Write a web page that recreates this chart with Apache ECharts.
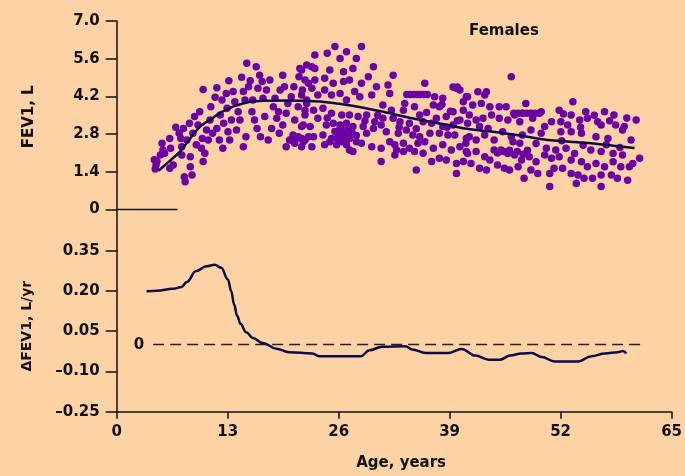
<!DOCTYPE html>
<html>
<head>
<meta charset="utf-8">
<script src="https://cdn.jsdelivr.net/npm/echarts@6/dist/echarts.min.js"></script>
<style>
html,body{margin:0;padding:0;background:#FDD3A5;}
#chart{width:685px;height:476px;}
</style>
</head>
<body>
<div id="chart"></div>
<script>
// ---- data ----
const titleText = 'Females';
const ageTicks = [0, 13, 26, 39, 52, 65];
const fevTicks = [0, 1.4, 2.8, 4.2, 5.6, 7.0];
const deltaTicks = [-0.25, -0.10, 0.05, 0.20, 0.35];

// individual FEV1 measurements [age, FEV1 (L)]
const fevPoints = [
[4.4,1.85],[4.6,1.65],[4.5,1.5],[4.7,1.78],[5.1,2.02],[5.3,2.46],[5.4,2.21],[5.6,2.09],[6.2,2.64],[6.3,2.27],
[6.2,1.53],[6.6,1.65],[6.9,3.05],[7.3,2.83],[7.5,2.64],[7.6,2.33],[7.6,2.02],[7.8,3.01],[7.9,1.22],[8.2,2.58],
[8.5,3.2],[8.6,1.96],[8.6,1.59],[8.8,1.28],[8.0,1.03],[8.9,2.83],[9.1,3.45],[9.3,2.4],[9.5,3.14],[9.7,3.63],
[9.9,2.27],[10.0,2.64],[10.1,1.78],[10.1,4.46],[10.3,2.09],[10.5,2.95],[10.7,2.58],[10.9,3.32],[11.0,3.82],[11.2,2.83],
[11.5,4.17],[11.7,3.01],[11.7,4.52],[12.0,2.58],[12.1,3.51],[12.3,4.07],[12.4,2.27],[12.5,3.2],[12.8,4.31],[12.9,3.76],
[13.0,2.89],[13.1,4.78],[13.2,2.58],[13.4,3.32],[13.6,4.38],[13.8,4.0],[14.0,2.95],[14.2,3.63],[14.4,3.32],[14.6,4.91],
[14.8,4.38],[14.8,2.33],[15.0,4.07],[15.1,2.7],[15.2,5.43],[15.4,4.56],[15.6,4.78],[15.8,3.63],[15.9,4.07],[16.1,3.32],
[16.3,5.3],[16.4,3.01],[16.5,4.5],[16.7,4.99],[16.8,2.7],[17.0,4.75],[17.1,4.13],[17.3,3.45],[17.5,4.44],[17.7,2.58],
[17.9,4.81],[18.1,3.01],[18.3,3.82],[18.5,4.13],[18.7,3.39],[18.9,3.63],[19.0,2.83],[19.1,4.44],[19.4,4.99],[19.4,3.14],
[19.6,4.56],[19.8,2.33],[19.8,3.57],[20.0,3.94],[20.2,2.58],[20.4,4.19],[20.6,2.77],[20.7,4.56],[20.8,3.32],[21.0,2.64],
[21.2,3.82],[21.3,4.93],[21.4,5.24],[21.6,3.08],[21.7,4.44],[21.8,2.58],[22.0,3.51],[22.2,5.37],[22.2,3.94],[22.4,4.69],
[22.4,2.7],[20.4,2.58],[20.8,2.46],[21.2,2.7],[22.0,2.58],[21.6,2.33],
[23.15,5.74],[24.6,5.8],[25.5,6.05],[26.85,5.86],[26.1,5.61],[28.6,6.05],[28.0,5.61],[22.8,5.3],[23.15,5.24],[21.6,5.18],
[24.9,5.18],[26.5,5.12],[27.6,5.24],[30.0,5.3],[29.4,4.93],[32.3,4.99],[22.0,4.81],[23.15,4.81],[24.3,4.87],[25.3,4.69],
[26.5,4.75],[27.2,4.81],[28.6,4.69],[30.35,4.56],[31.7,4.62],[31.9,4.31],[29.8,4.25],[28.4,4.19],[27.8,4.38],[26.85,4.07],
[26.1,4.31],[25.1,4.25],[24.3,4.44],[23.5,4.25],[22.8,4.5],[21.6,4.25],[22.2,4.07],[36.0,4.69],[37.15,4.19],[38.1,4.13],
[39.7,4.5],[40.1,4.44],[40.85,4.19],[40.5,4.0],[33.65,3.94],[31.1,3.88],[32.1,3.69],[33.5,3.69],[34.8,3.82],[37.0,3.88],
[37.7,3.82],[38.5,3.45],[39.3,3.63],[40.5,3.69],[41.0,3.2],[22.0,3.69],[23.0,3.69],[24.1,3.76],[25.1,3.57],[26.3,3.51],
[27.2,3.51],[28.2,3.45],[29.2,3.51],[30.15,3.26],[31.1,3.39],[32.3,3.39],[33.1,3.26],[34.2,3.2],[35.4,3.51],[35.8,3.26],
[36.8,3.2],[37.35,3.39],[38.1,3.08],[39.3,3.14],[40.1,3.32],[21.8,3.14],[22.6,3.08],[23.5,3.39],[24.5,3.14],[25.3,3.2],
[26.1,3.14],[26.85,3.2],[27.6,3.08],[28.8,3.08],[30.0,3.01],[30.9,3.14],[31.5,2.89],[32.9,2.83],[33.85,2.95],[34.6,2.77],
[35.4,2.7],[36.6,2.83],[37.7,2.83],[38.7,2.77],[39.5,2.77],[40.85,2.64],[21.6,2.64],[23.0,2.7],[24.1,2.77],[25.1,2.64],
[25.9,2.77],[26.5,2.77],[27.2,2.64],[28.0,2.52],[29.2,2.83],[29.8,2.33],[30.9,2.27],[31.9,2.52],[32.5,2.4],[33.5,2.46],
[34.2,2.27],[35.2,2.46],[36.0,2.52],[37.0,2.27],[38.1,2.4],[39.1,2.21],[40.1,2.33],[40.85,2.15],[21.8,2.52],[22.8,2.33],
[24.3,2.4],[25.7,2.4],[26.85,2.4],[27.6,2.15],[28.6,2.46],[30.9,1.78],[32.7,2.21],[33.5,2.15],[34.8,2.15],[35.8,2.09],
[36.8,1.78],[37.7,1.9],[38.5,1.84],[39.7,1.71],[40.5,1.78],[35.0,1.47],[39.7,1.34],[32.5,2.02],[27.2,2.21],[26.3,2.52],
[24.9,2.52],
[33.9,4.27],[34.3,4.27],[34.7,4.27],[35.1,4.27],[35.5,4.27],[35.9,4.27],[36.3,4.27],[39.3,4.55],[39.8,4.55],
[25.5,2.9],[26.0,2.95],[26.5,2.85],[27.0,2.95],[27.5,2.85],[26.2,3.05],[27.2,2.7],[25.8,2.65],[28.0,2.75],[26.7,2.6],
[46.1,4.93],[42.2,4.37],[43.2,4.37],[43.0,4.25],[41.0,4.19],[41.6,3.88],[42.6,3.94],[43.6,3.82],[44.7,3.82],[45.5,3.82],
[47.8,3.94],[49.6,3.63],[51.7,3.69],[53.3,4.0],[53.1,3.51],[54.8,3.63],[57.0,3.63],[58.1,3.51],[60.7,3.32],[58.3,3.14],
[59.1,2.95],[56.6,3.14],[56.2,3.26],[55.0,3.39],[54.1,3.32],[52.7,3.14],[51.9,3.26],[50.8,3.26],[50.0,3.08],[48.6,3.39],
[47.4,3.57],[46.5,3.51],[47.1,3.26],[45.7,3.32],[44.7,3.39],[43.8,3.51],[42.8,3.39],[42.0,3.32],[41.2,3.51],[42.4,3.08],
[43.4,3.01],[45.1,2.89],[46.1,2.7],[47.4,2.77],[48.4,2.95],[49.6,2.83],[51.9,2.89],[53.1,2.89],[54.3,2.83],[56.0,2.7],
[57.4,2.64],[59.3,3.08],[60.1,2.58],[41.2,2.7],[42.0,2.58],[43.0,2.77],[44.1,2.58],[46.3,2.52],[47.1,2.46],[50.2,2.27],
[51.3,2.21],[52.5,2.27],[53.5,2.08],[54.5,2.39],[55.4,2.21],[56.6,2.15],[58.0,2.08],[59.1,2.02],[61.1,1.9],[60.3,1.71],
[41.0,2.08],[42.0,2.15],[43.0,1.96],[44.1,2.21],[44.9,2.21],[45.7,2.08],[46.5,2.02],[47.3,1.84],[48.2,1.96],[49.0,1.77],
[50.0,2.02],[50.8,1.9],[51.7,1.96],[53.1,1.84],[54.3,1.77],[55.0,1.59],[56.0,1.71],[57.0,1.59],[58.0,1.77],[58.9,1.59],
[41.4,1.71],[42.4,1.53],[43.6,1.84],[44.5,1.65],[45.3,1.53],[45.9,1.47],[46.9,1.59],[48.4,1.47],[49.2,1.34],[50.6,1.34],
[51.1,1.53],[52.1,1.53],[53.1,1.34],[53.9,1.28],[54.6,1.16],[55.6,1.16],[56.6,1.28],[57.8,1.28],[58.5,1.16],[59.7,1.09],
[47.6,1.16],[50.6,0.85],[53.7,0.97],[56.6,0.85],[43.2,1.47],[40.8,2.46],[59.9,1.59],
[46.4,3.57],[46.9,3.57],[47.4,3.57],[47.9,3.57],[48.4,3.57],[48.9,3.57],[49.4,3.57],
[44.5,2.1],[45.2,2.15],[45.9,2.2],[46.8,2.15],[47.5,2.05],
[38.0,3.9],[39.0,3.65],[39.8,3.3],[38.6,3.05],[36.2,3.6],[35.0,3.0],[33.0,3.05],[30.5,3.5],[29.0,3.3],[24.6,3.4],
[52.2,3.55],[54.2,3.05],[55.8,3.5],[57.6,3.3],[59.6,3.4],[58.8,2.3],[57.2,2.4],[52.0,2.55],[49.0,2.45],[48.0,2.2]
];

// mean FEV1 curve [age, FEV1 (L)]
const fevMean = [
[4.9,1.44],[6,1.75],[7.4,2.15],[8.5,2.6],[9.7,3.07],[11,3.35],[12,3.57],[13.6,3.82],[15.6,4.0],[17.5,4.04],
[20,4.05],[22,4.03],[24,4.0],[26.4,3.91],[28.5,3.8],[30.7,3.66],[32.5,3.53],[34.2,3.41],[36.9,3.24],[38.5,3.15],
[40.7,3.01],[43,2.92],[45.3,2.83],[48,2.7],[50.4,2.58],[53,2.52],[55.4,2.46],[58,2.37],[60.5,2.28]
];

// yearly change of FEV1 [age, dFEV1 (L/yr)]
const deltaFev = [
[3.5,0.199],[4.7,0.201],[6.6,0.208],[7.6,0.215],[8.2,0.233],[9.3,0.274],[10.5,0.292],[11.5,0.298],[12.25,0.286],[13.02,0.243],
[13.42,0.199],[13.75,0.15],[14.1,0.108],[14.5,0.078],[15.17,0.046],[15.94,0.025],[17.1,0.006],[18.7,-0.015],[20.2,-0.028],[22.9,-0.033],
[23.7,-0.043],[27.2,-0.043],[28.6,-0.043],[29.6,-0.021],[31.1,-0.008],[33.8,-0.006],[34.6,-0.018],[36.2,-0.031],[38.9,-0.031],[40.4,-0.016],
[42.0,-0.041],[43.6,-0.056],[44.9,-0.056],[46.1,-0.041],[47.4,-0.033],[48.6,-0.031],[49.8,-0.046],[51.3,-0.063],[54.1,-0.063],[55.6,-0.043],
[57.2,-0.033],[58.7,-0.028],[59.3,-0.024],[59.7,-0.033]
];

// reference lines
const zeroDash = [[4.27,0],[61.7,0]];
const zeroTop = [[0,0],[7.1,0]];

// ---- chart ----
const FONT = 'DejaVu Sans';
const INK = '#111111';
const chart = echarts.init(document.getElementById('chart'), null, {renderer:'canvas'});

const axisLineStyle = {show:true, onZero:false, lineStyle:{color:INK, width:1.5}};
const labelStyle = {color:INK, fontFamily:FONT, fontWeight:'bold', fontSize:15};

chart.setOption({
  backgroundColor:'#FDD3A5',
  animation:false,
  title:{
    text:titleText, left:469, top:24, padding:0,
    textStyle:{color:INK, fontFamily:FONT, fontWeight:'bold', fontSize:15}
  },
  grid:[
    {left:116.7, right:12, top:21, height:229.7},
    {left:116.7, right:12, top:250.7, height:161}
  ],
  xAxis:[
    {gridIndex:0, type:'value', min:0, max:65, interval:13, show:false},
    {gridIndex:1, type:'value', min:0, max:65, interval:13,
     axisLine:axisLineStyle,
     axisTick:{show:true, length:7, inside:false, lineStyle:{color:INK, width:1.5}},
     axisLabel:Object.assign({margin:13}, labelStyle),
     splitLine:{show:false},
     name:'Age, years', nameLocation:'middle', nameGap:44,
     nameTextStyle:{color:INK, fontFamily:FONT, fontWeight:'bold', fontSize:15, padding:[0,0,0,14]}
    }
  ],
  yAxis:[
    {gridIndex:0, type:'value', min:-1.53, max:7,
     axisLine:axisLineStyle,
     axisTick:{show:true, length:11, customValues:fevTicks, lineStyle:{color:INK, width:1.5}},
     axisLabel:Object.assign({margin:17, customValues:fevTicks,
       formatter:v => (Math.abs(v) < 1e-9 ? '0' : v.toFixed(1))}, labelStyle),
     splitLine:{show:false},
     name:'FEV1, L', nameLocation:'middle', nameGap:80,
     nameTextStyle:{color:INK, fontFamily:FONT, fontWeight:'bold', fontSize:15, padding:[0,0,0,38]}
    },
    {gridIndex:1, type:'value', min:-0.25, max:0.35,
     axisLine:axisLineStyle,
     axisTick:{show:true, length:11, customValues:deltaTicks, lineStyle:{color:INK, width:1.5}},
     axisLabel:Object.assign({margin:17, customValues:deltaTicks,
       formatter:v => v.toFixed(2).replace('-', '\u2013')}, labelStyle),
     splitLine:{show:false},
     name:'\u0394FEV1, L/yr', nameLocation:'middle', nameGap:82,
     nameTextStyle:{color:INK, fontFamily:FONT, fontWeight:'bold', fontSize:14, padding:[0,0,0,10]}
    }
  ],
  series:[
    {type:'scatter', xAxisIndex:0, yAxisIndex:0, data:fevPoints, symbol:'circle', symbolSize:7.5,
     itemStyle:{color:'#6B00A3', opacity:1}, z:2, silent:true},
    {type:'line', xAxisIndex:0, yAxisIndex:0, data:fevMean, smooth:0.3, showSymbol:false,
     lineStyle:{color:'#0B0B4A', width:2.5}, z:3, silent:true},
    {type:'line', xAxisIndex:0, yAxisIndex:0, data:zeroTop, showSymbol:false,
     lineStyle:{color:INK, width:1.5}, z:3, silent:true},
    {type:'line', xAxisIndex:1, yAxisIndex:1, data:zeroDash, symbol:'none',
     lineStyle:{color:'#222222', width:1.5, type:[11,6]}, z:2, silent:true,
     markPoint:{symbol:'circle', symbolSize:0, silent:true,
       data:[{coord:zeroDash[0], value:0,
         label:{show:true, position:'left', distance:9, formatter:'0', color:INK, fontFamily:FONT, fontWeight:'bold', fontSize:15}}]}
    },
    {type:'line', xAxisIndex:1, yAxisIndex:1, data:deltaFev, smooth:0.4, smoothMonotone:'x', showSymbol:false,
     lineStyle:{color:'#0B0B4A', width:2.5}, z:3, silent:true}
  ]
});
</script>
</body>
</html>
